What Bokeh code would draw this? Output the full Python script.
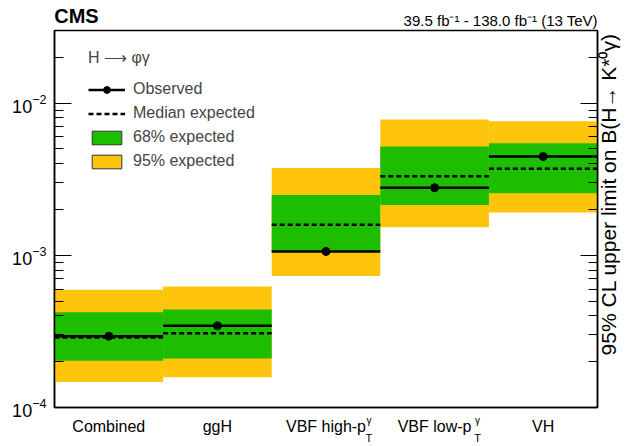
import math
import numpy as np
from bokeh.plotting import figure
from bokeh.models import (Range1d, LogAxis, LinearAxis, FixedTicker, Legend, LegendItem,
                          CustomJSTickFormatter, ColumnDataSource)
from bokeh.embed import file_html
from bokeh.resources import INLINE

# ---------------- data ----------------
categories = ["Combined", "ggH", "VBF high-p", "VBF low-p", "VH"]
category_sup = ["", "", "γ", "γ", ""]
category_sub = ["", "", "T", "T", ""]
observed = [2.94e-4, 3.44e-4, 1.06e-3, 2.78e-3, 4.46e-3]
expected = [2.88e-4, 3.07e-4, 1.59e-3, 3.31e-3, 3.71e-3]
band68_lo = [2.03e-4, 2.10e-4, 1.05e-3, 2.14e-3, 2.56e-3]
band68_hi = [4.23e-4, 4.40e-4, 2.49e-3, 5.18e-3, 5.45e-3]
band95_lo = [1.47e-4, 1.58e-4, 7.30e-4, 1.53e-3, 1.91e-3]
band95_hi = [5.93e-4, 6.24e-4, 3.75e-3, 7.80e-3, 7.60e-3]
y_major_ticks = [1e-4, 1e-3, 1e-2]
y_minor_ticks = [m * 10.0 ** e for e in (-4, -3, -2) for m in range(2, 10) if m * 10.0 ** e < 0.03]
cms_text = "CMS"
lumi_text = "39.5 fb⁻¹ - 138.0 fb⁻¹ (13 TeV)"
y_title = "95% CL upper limit on B(H→ K*⁰γ)"
legend_title = "H ⟶ φγ"

# ---------------- layout / style constants ----------------
Y_MIN, Y_MAX = 1e-4, 3e-2
X_MIN, X_MAX = 0, len(categories)
PX_PER_UNIT = 110.0
SUPSUB_DX = 43.5 / PX_PER_UNIT          # sub/superscript just right of the "p"
CMS_HALF_W = 22.2 / PX_PER_UNIT         # half text widths (px) for edge alignment
LUMI_HALF_W = 98.0 / PX_PER_UNIT
TITLE_START = 2.2e-4                    # where the rotated right-hand title starts

GREEN = "#1dbe00"
YELLOW = "#ffc40c"
FONT = "Liberation Sans"

xc = np.arange(len(categories)) + 0.5
src = ColumnDataSource(dict(
    xc=xc, left=xc - 0.5, right=xc + 0.5,
    obs=observed, exp=expected,
    lo68=band68_lo, hi68=band68_hi, lo95=band95_lo, hi95=band95_hi,
))

p = figure(width=634, height=446, x_range=Range1d(X_MIN, X_MAX), y_range=Range1d(Y_MIN, Y_MAX),
           y_axis_type="log", output_backend="svg", toolbar_location=None,
           min_border_left=54, min_border_right=30, min_border_top=30, min_border_bottom=35)
p.title_location = None
p.xgrid.visible = False
p.ygrid.visible = False
p.outline_line_color = "black"
p.outline_line_width = 1.5
p.background_fill_color = "white"
p.border_fill_color = "white"

r95 = p.quad(left="left", right="right", bottom="lo95", top="hi95", source=src,
             fill_color=YELLOW, line_color=None)
r68 = p.quad(left="left", right="right", bottom="lo68", top="hi68", source=src,
             fill_color=GREEN, line_color=None)
r_exp = p.segment(x0="left", x1="right", y0="exp", y1="exp", source=src,
                  line_color="black", line_width=2.5, line_dash="5 3")
r_obs = p.segment(x0="left", x1="right", y0="obs", y1="obs", source=src,
                  line_color="black", line_width=2.5)
r_pt = p.scatter(x="xc", y="obs", source=src, size=8, color="black")

# legend swatches with a thin border (not drawn in the plot itself)
leg68 = p.quad(left="left", right="right", bottom="lo68", top="hi68", source=src,
               fill_color=GREEN, line_color="#333333", line_width=1, visible=False)
leg95 = p.quad(left="left", right="right", bottom="lo95", top="hi95", source=src,
               fill_color=YELLOW, line_color="#333333", line_width=1, visible=False)

legend = Legend(items=[
    LegendItem(label="Observed", renderers=[r_obs, r_pt]),
    LegendItem(label="Median expected", renderers=[r_exp]),
    LegendItem(label="68% expected", renderers=[leg68]),
    LegendItem(label="95% expected", renderers=[leg95]),
], location=(34, 237), title=legend_title,
    title_text_font=FONT, title_text_font_size="16px", title_text_font_style="normal",
    title_standoff=13,
    label_text_font=FONT, label_text_font_size="16px",
    glyph_width=37, glyph_height=17, label_height=17, label_standoff=8, spacing=6,
    padding=0, margin=0, background_fill_alpha=0, border_line_color=None,
    inactive_fill_alpha=0)
p.add_layout(legend)


def bare(axis):
    axis.major_tick_in = 0
    axis.major_tick_out = 0
    axis.minor_tick_in = 0
    axis.minor_tick_out = 0
    axis.axis_line_color = None
    axis.major_label_text_color = "black"
    axis.major_label_text_font = FONT
    return axis


# x axis (category names)
xax = p.xaxis[0]
xax.ticker = FixedTicker(ticks=list(xc))
xax.major_label_overrides = {float(x): c for x, c in zip(xc, categories)}
xax.major_tick_in = 0
xax.major_tick_out = 0
xax.minor_tick_in = 0
xax.minor_tick_out = 0
xax.axis_line_width = 1.5
xax.major_label_standoff = 10
xax.major_label_text_font = FONT
xax.major_label_text_font_size = "16px"
xax.major_label_text_color = "black"

# subscript "T" and superscript "γ" of p_T^γ, as extra label rows below
sub_pos = [float(x) + SUPSUB_DX for x, s in zip(xc, category_sub) if s]
sub_txt = [s for s in category_sub if s]
sub_ax = bare(LinearAxis(ticker=FixedTicker(ticks=sub_pos)))
sub_ax.major_label_overrides = dict(zip(sub_pos, sub_txt))
sub_ax.major_label_text_font_size = "11px"
sub_ax.major_label_standoff = -6
p.add_layout(sub_ax, "below")

sup_pos = [float(x) + SUPSUB_DX for x, s in zip(xc, category_sup) if s]
sup_txt = [s for s in category_sup if s]
sup_ax = bare(LinearAxis(ticker=FixedTicker(ticks=sup_pos)))
sup_ax.major_label_overrides = dict(zip(sup_pos, sup_txt))
sup_ax.major_label_text_font_size = "10px"
sup_ax.major_label_standoff = -32
p.add_layout(sup_ax, "below")

# header row: luminosity (right) and CMS (left)
lumi_pos = X_MAX - LUMI_HALF_W
lumi_ax = bare(LinearAxis(ticker=FixedTicker(ticks=[lumi_pos])))
lumi_ax.major_label_overrides = {lumi_pos: lumi_text}
lumi_ax.major_label_text_font_size = "15px"
lumi_ax.major_label_standoff = 2
p.add_layout(lumi_ax, "above")

cms_pos = X_MIN + CMS_HALF_W
cms_ax = bare(LinearAxis(ticker=FixedTicker(ticks=[cms_pos])))
cms_ax.major_label_overrides = {cms_pos: cms_text}
cms_ax.major_label_text_font_size = "20px"
cms_ax.major_label_text_font_style = "bold"
cms_ax.major_label_standoff = -18
p.add_layout(cms_ax, "above")

# left y axis
yax = p.yaxis[0]
yax.ticker = FixedTicker(ticks=y_major_ticks, minor_ticks=y_minor_ticks)
yax.major_tick_in = 17
yax.major_tick_out = 0
yax.minor_tick_in = 9
yax.minor_tick_out = 0
yax.axis_line_width = 1.5
yax.major_tick_line_width = 1.2
yax.minor_tick_line_width = 1.2
yax.major_label_standoff = 8
yax.major_label_text_font = FONT
yax.major_label_text_font_size = "18px"
yax.major_label_text_color = "black"

# right y axis: mirrored ticks
rax = LogAxis(ticker=FixedTicker(ticks=y_major_ticks, minor_ticks=y_minor_ticks),
              formatter=CustomJSTickFormatter(code="return ''"))
rax.major_tick_in = 17
rax.major_tick_out = 0
rax.minor_tick_in = 9
rax.minor_tick_out = 0
rax.axis_line_width = 1.5
rax.major_tick_line_width = 1.2
rax.minor_tick_line_width = 1.2
rax.major_label_standoff = 0
rax.major_label_text_font_size = "1px"
p.add_layout(rax, "right")

# right y axis title, reading bottom-to-top, top aligned like ROOT
tax = bare(LogAxis(ticker=FixedTicker(ticks=[TITLE_START])))
tax.major_label_overrides = {TITLE_START: y_title}
tax.major_label_orientation = math.pi / 2
tax.major_label_text_font_size = "21px"
tax.major_label_standoff = 11
p.add_layout(tax, "right")

open("out.html", "w").write(file_html(p, INLINE))
